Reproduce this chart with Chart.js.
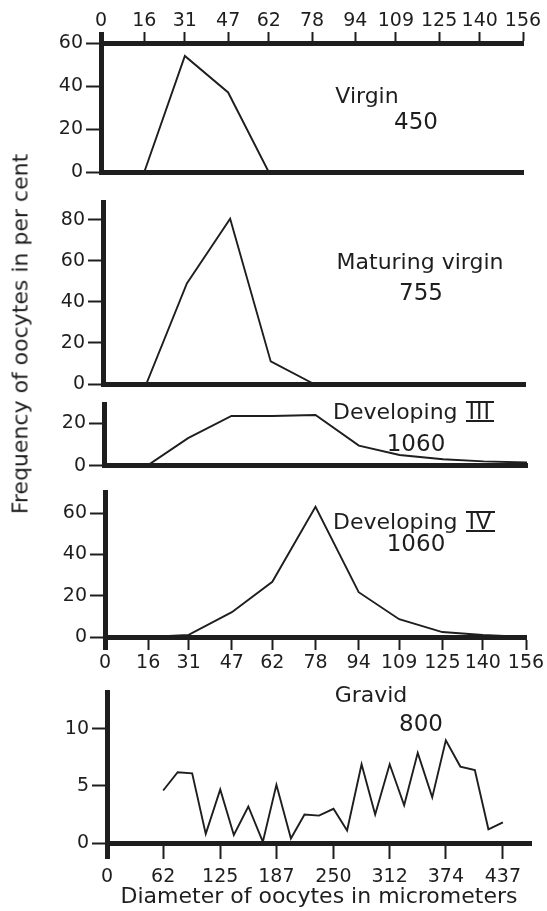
<!DOCTYPE html>
<html>
<head>
<meta charset="utf-8">
<script src="https://cdn.jsdelivr.net/npm/chart.js@4.4.1/dist/chart.umd.min.js"></script>
<style>
  html, body { margin: 0; padding: 0; background: #fff; }
  body { width: 547px; height: 911px; position: relative; overflow: hidden;
         font-family: "DejaVu Sans", sans-serif; color: #1e1e1e; }
  canvas { position: absolute; left: 0; }
  .note { position: absolute; transform: translate(-50%, -50%); white-space: nowrap; font-size: 22px; line-height: 1; }
  .num { font-size: 23px; }
  .left { transform: translate(0, -50%); }
  .roman { display: inline-block; border-top: 2px solid #1e1e1e; border-bottom: 2px solid #1e1e1e;
           line-height: 0.78; padding: 0 3px; margin-left: 8px; letter-spacing: 1px; }
  #ytitle { position: absolute; left: 20px; top: 334px; transform: translate(-50%, -50%) rotate(-90deg);
            font-size: 22px; white-space: nowrap; }
</style>
</head>
<body>
<canvas id="c1" width="547" height="190" style="top:0px"></canvas>
<canvas id="c2" width="547" height="212" style="top:188px"></canvas>
<canvas id="c3" width="547" height="90" style="top:390px"></canvas>
<canvas id="c4" width="547" height="197" style="top:478px"></canvas>
<canvas id="c5" width="547" height="233" style="top:678px"></canvas>

<div id="ytitle">Frequency of oocytes in per cent</div>

<div class="note" style="left:367px;top:96px">Virgin</div>
<div class="note num" style="left:416px;top:121px">450</div>
<div class="note" style="left:420px;top:262px">Maturing virgin</div>
<div class="note num" style="left:421px;top:292px">755</div>
<div class="note left" style="left:333px;top:412px">Developing<span class="roman">III</span></div>
<div class="note num" style="left:416px;top:443px">1060</div>
<div class="note left" style="left:333px;top:522px">Developing<span class="roman">IV</span></div>
<div class="note num" style="left:416px;top:543px">1060</div>
<div class="note" style="left:371px;top:695px">Gravid</div>
<div class="note num" style="left:421px;top:723px">800</div>

<script>
// Oocyte diameter classes (micrometers) for the first four stages
const sizeClasses = [0, 16, 31, 47, 62, 78, 94, 109, 125, 140, 156];

// Frequency in per cent
const virgin         = [0, 0, 54, 37, 0, 0, 0, 0, 0, 0, 0];
const maturingVirgin = [0, 0, 49, 80.5, 11, 0, 0, 0, 0, 0, 0];
const developingIII  = [0, 0, 13, 23.5, 23.5, 24, 9.5, 5, 3, 2, 1.5];
const developingIV   = [0, 0, 1, 12, 26.7, 63, 21.7, 8.6, 2.4, 1, 0];

// Gravid stage uses a wider diameter range
const gravidClasses = [62, 78, 94, 109, 125, 140, 156, 172, 187, 203, 218, 234, 250,
                       265, 281, 296, 312, 328, 343, 359, 374, 390, 406, 421, 437];
const gravid = [4.6, 6.2, 6.1, 0.8, 4.7, 0.7, 3.2, 0.1, 5.1, 0.4, 2.5, 2.4, 3.0,
                1.1, 6.9, 2.5, 6.9, 3.3, 7.9, 4.0, 9.0, 6.7, 6.4, 1.2, 1.8];

// Tick labels
const virginTicks    = [0, 20, 40, 60];
const maturingTicks  = [0, 20, 40, 60, 80];
const devIIITicks    = [0, 20];
const devIVTicks     = [0, 20, 40, 60];
const gravidYTicks   = [0, 5, 10];
const gravidXTicks   = [0, 62, 125, 187, 250, 312, 374, 437];

const ink = '#1e1e1e';
const tickFont = { family: 'DejaVu Sans', size: 19 };

function fixedTicks(values) {
    return scale => { scale.ticks = values.map(v => ({ value: v })); };
}

function thickAtZero(ctx) {
    return ctx.tick && ctx.tick.value === 0 ? 5 : 2;
}

function yAxis(width, max, ticks) {
    return {
        type: 'linear',
        position: 'left',
        min: 0,
        max: max,
        afterBuildTicks: fixedTicks(ticks),
        afterFit: s => { s.width = width; },
        border: { display: true, width: 5, color: ink },
        grid: { drawOnChartArea: false, drawTicks: true, tickLength: 15, tickWidth: 2, tickColor: ink, color: ink },
        ticks: { color: ink, font: tickFont, padding: 3 }
    };
}

// plain bottom line, no ticks
function baseLine(max) {
    return {
        type: 'linear',
        position: 'bottom',
        min: 0,
        max: max,
        afterFit: s => { s.height = 0; },
        border: { display: true, width: 5, color: ink },
        grid: { drawOnChartArea: false, drawTicks: false },
        ticks: { display: false }
    };
}

// labelled diameter axis
function sizeAxis(position, max, ticks, height, tickLength, padding) {
    return {
        type: 'linear',
        position: position,
        min: 0,
        max: max,
        afterBuildTicks: fixedTicks(ticks),
        afterFit: s => { s.height = height; },
        border: { display: true, width: 5, color: ink },
        grid: { drawOnChartArea: false, drawTicks: true, tickLength: tickLength, tickWidth: thickAtZero, tickColor: ink, color: ink },
        ticks: { color: ink, font: tickFont, padding: padding, autoSkip: false, maxRotation: 0 }
    };
}

function series(xs, ys) {
    return [{
        data: xs.map((x, i) => ({ x: x, y: ys[i] })),
        borderColor: ink,
        borderWidth: 1.9,
        pointRadius: 0,
        tension: 0,
        fill: false
    }];
}

function panel(id, datasets, scales, padding) {
    new Chart(document.getElementById(id), {
        type: 'line',
        data: { datasets: datasets },
        options: {
            responsive: false,
            animation: false,
            layout: { padding: padding },
            plugins: { legend: { display: false }, tooltip: { enabled: false } },
            scales: scales
        }
    });
}

// Virgin
panel('c1', series(sizeClasses, virgin), {
    x: baseLine(156),
    xTop: sizeAxis('top', 156, sizeClasses, 43, 11, 0),
    y: yAxis(101, 60, virginTicks)
}, { top: 0, right: 24, bottom: 18, left: 0 });

// Maturing virgin
panel('c2', series(sizeClasses, maturingVirgin), {
    x: baseLine(156),
    y: yAxis(103, 88.5, maturingTicks)
}, { top: 9, right: 22, bottom: 16, left: 0 });

// Developing III
panel('c3', series(sizeClasses, developingIII), {
    x: baseLine(156),
    y: yAxis(104, 29, devIIITicks)
}, { top: 14, right: 20, bottom: 12, left: 0 });

// Developing IV
panel('c4', series(sizeClasses, developingIV), {
    x: sizeAxis('bottom', 156, sizeClasses, 38, 13, 2),
    y: yAxis(105, 70, devIVTicks)
}, { top: 12, right: 21, bottom: 0, left: 0 });

// Gravid
const gravidX = sizeAxis('bottom', 468, gravidXTicks, 68, 16, 7);
gravidX.title = { display: true, text: 'Diameter of oocytes in micrometers', color: ink,
                  font: { family: 'DejaVu Sans', size: 22 }, padding: { top: 0, bottom: 1 } };
panel('c5', series(gravidClasses, gravid), {
    x: gravidX,
    y: yAxis(107, 13.2, gravidYTicks)
}, { top: 7, right: 16, bottom: 0, left: 0 });
</script>
</body>
</html>
